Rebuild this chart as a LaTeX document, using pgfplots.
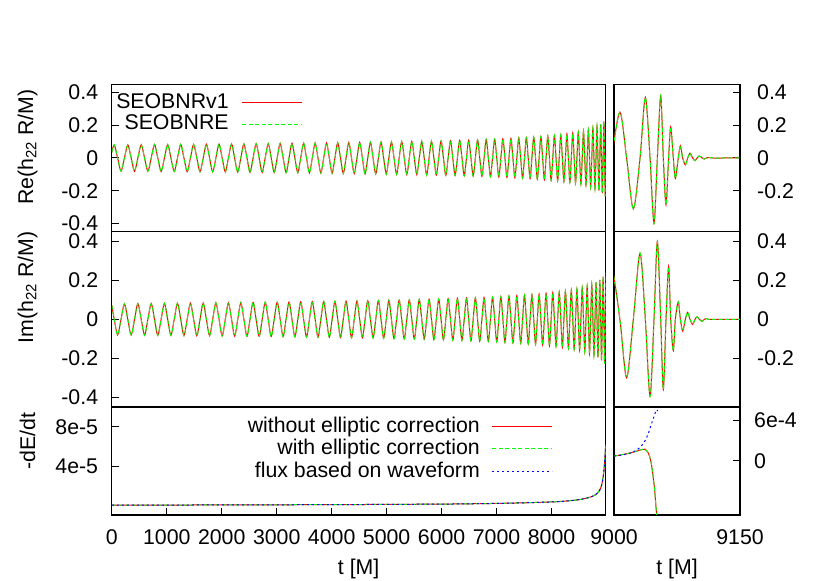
\documentclass[border=0pt]{standalone}
\usepackage{pgfplots}
\pgfplotsset{compat=1.18}
\usepackage{pgfplotstable}
\usepackage{fontspec}
\setmainfont{Liberation Sans}
\definecolor{gpred}{RGB}{255,0,0}
\definecolor{gpgreen}{RGB}{0,255,0}
\definecolor{gpblue}{RGB}{0,0,255}

% quarter-cycle samples of the inspiral waveform (t, Re, Im)
\pgfplotstableread{
t re im
0 0.034 0.072
44.6 0.080 0
106.4 0 -0.080
168.1 -0.080 0
229.7 0 0.080
291.1 0.080 0
352.3 0 -0.080
413.4 -0.081 0
474.4 0 0.081
535.2 0.081 0
595.9 0 -0.081
656.4 -0.081 0
716.8 0 0.081
777.0 0.082 0
837.1 0 -0.082
897.1 -0.082 0
956.9 0 0.082
1016.5 0.082 0
1076.0 0 -0.082
1135.4 -0.082 0
1194.6 0 0.083
1253.7 0.083 0
1312.6 0 -0.083
1371.3 -0.083 0
1430.0 0 0.083
1488.4 0.083 0
1546.7 0 -0.084
1604.9 -0.084 0
1662.9 0 0.084
1720.8 0.084 0
1778.5 0 -0.084
1836.0 -0.085 0
1893.4 0 0.085
1950.7 0.085 0
2007.8 0 -0.085
2064.7 -0.085 0
2121.5 0 0.085
2178.1 0.086 0
2234.6 0 -0.086
2290.9 -0.086 0
2347.1 0 0.086
2403.1 0.086 0
2459.0 0 -0.087
2514.6 -0.087 0
2570.2 0 0.087
2625.6 0.087 0
2680.8 0 -0.087
2735.8 -0.088 0
2790.7 0 0.088
2845.5 0.088 0
2900.0 0 -0.088
2954.5 -0.088 0
3008.7 0 0.088
3062.8 0.089 0
3116.7 0 -0.089
3170.5 -0.089 0
3224.1 0 0.089
3277.5 0.090 0
3330.8 0 -0.090
3383.9 -0.090 0
3436.9 0 0.090
3489.6 0.091 0
3542.3 0 -0.091
3594.7 -0.091 0
3647.0 0 0.091
3699.1 0.091 0
3751.0 0 -0.092
3802.8 -0.092 0
3854.4 0 0.092
3905.8 0.092 0
3957.1 0 -0.092
4008.1 -0.093 0
4059.1 0 0.093
4109.8 0.093 0
4160.4 0 -0.093
4210.8 -0.094 0
4261.0 0 0.094
4311.0 0.094 0
4360.9 0 -0.094
4410.6 -0.095 0
4460.1 0 0.095
4509.4 0.095 0
4558.6 0 -0.095
4607.6 -0.096 0
4656.4 0 0.096
4705.0 0.096 0
4753.4 0 -0.096
4801.7 -0.097 0
4849.7 0 0.097
4897.6 0.097 0
4945.3 0 -0.097
4992.8 -0.098 0
5040.2 0 0.098
5087.3 0.098 0
5134.3 0 -0.099
5181.1 -0.099 0
5227.6 0 0.099
5274.0 0.100 0
5320.3 0 -0.100
5366.3 -0.100 0
5412.1 0 0.100
5457.7 0.101 0
5503.2 0 -0.101
5548.4 -0.101 0
5593.5 0 0.102
5638.3 0.102 0
5683.0 0 -0.102
5727.4 -0.103 0
5771.7 0 0.103
5815.8 0.103 0
5859.6 0 -0.104
5903.3 -0.104 0
5946.8 0 0.104
5990.0 0.105 0
6033.1 0 -0.105
6076.0 -0.106 0
6118.6 0 0.106
6161.0 0.106 0
6203.3 0 -0.107
6245.3 -0.107 0
6287.1 0 0.108
6328.7 0.108 0
6370.1 0 -0.108
6411.3 -0.109 0
6452.3 0 0.109
6493.0 0.109 0
6533.5 0 -0.110
6573.9 -0.110 0
6614.0 0 0.111
6653.8 0.111 0
6693.5 0 -0.112
6732.9 -0.112 0
6772.2 0 0.112
6811.1 0.113 0
6849.9 0 -0.113
6888.4 -0.114 0
6926.7 0 0.114
6964.8 0.115 0
7002.7 0 -0.115
7040.3 -0.116 0
7077.7 0 0.116
7114.8 0.117 0
7151.7 0 -0.118
7188.4 -0.118 0
7224.8 0 0.119
7261.0 0.119 0
7296.9 0 -0.120
7332.6 -0.120 0
7368.1 0 0.121
7403.2 0.122 0
7438.2 0 -0.122
7472.9 -0.123 0
7507.3 0 0.124
7541.5 0.124 0
7575.4 0 -0.125
7609.1 -0.126 0
7642.5 0 0.126
7675.7 0.127 0
7708.5 0 -0.128
7741.1 -0.129 0
7773.5 0 0.129
7805.5 0.130 0
7837.3 0 -0.131
7868.8 -0.132 0
7900.1 0 0.133
7931.0 0.134 0
7961.7 0 -0.135
7992.1 -0.136 0
8022.1 0 0.136
8051.9 0.137 0
8081.4 0 -0.138
8110.6 -0.139 0
8139.5 0 0.140
8168.1 0.141 0
8196.4 0 -0.142
8224.3 -0.144 0
8252.0 0 0.145
8279.3 0.146 0
8306.3 0 -0.147
8333.0 -0.148 0
8359.3 0 0.150
8385.3 0.151 0
8411.0 0 -0.152
8436.3 -0.154 0
8461.3 0 0.155
8486.0 0.157 0
8510.2 0 -0.158
8534.1 -0.160 0
8557.6 0 0.162
8580.8 0.164 0
8603.6 0 -0.165
8625.9 -0.167 0
8647.9 0 0.170
8669.5 0.172 0
8690.7 0 -0.174
8711.4 -0.176 0
8731.7 0 0.178
8751.6 0.181 0
8771.1 0 -0.183
8790.0 -0.186 0
8808.5 0 0.189
8826.6 0.192 0
8844.1 0 -0.195
8861.1 -0.199 0
8877.6 0 0.202
8893.6 0.206 0
8909.0 0 -0.210
8923.8 -0.215 0
8938.0 0 0.219
8951.6 0.224 0
8964.5 0 -0.229
8976.8 -0.234 0
8988.2 0 0.240
}\wavel

% merger and ringdown (t, Re, Im)
\pgfplotstableread{
t re im
8989 -0.25 0
8997 0 0.26
9007 0.28 0
9015 0 -0.30
9023 -0.31 0
9031 0 0.34
9037.3 0.37 0
9042.9 0 -0.395
9047.6 -0.40 0
9051.6 0 0.40
9055.6 0.38 0
9058.7 0 -0.36
9061.9 -0.285 0
9065 0 0.27
9067.5 0.19 0
9070.6 0 -0.16
9073 -0.125 0
9076.5 0 0.09
9079 0.075 0
9081.8 0 -0.06
9084.9 -0.042 0
9087.7 0 0.036
9090.5 0.030 0
9093.6 0 -0.026
9096.4 -0.016 0
9099 0 0.013
9101.6 0.013 0
9105 0 -0.010
9107.5 -0.006 0
9110 0 0.004
9112.5 0.003 0
9118 0 0
9130 0 0
9150 0 0
}\waver

% -dE/dt during the inspiral
\pgfplotstableread{
t f
0 1.0e-6
1000 1.05e-6
2000 1.15e-6
3000 1.3e-6
4000 1.45e-6
5000 1.7e-6
6000 2.0e-6
6500 2.3e-6
7000 2.7e-6
7500 3.3e-6
8000 4.2e-6
8200 4.8e-6
8400 5.8e-6
8500 6.5e-6
8600 7.5e-6
8700 9.0e-6
8750 1.0e-5
8800 1.15e-5
8850 1.4e-5
8880 1.65e-5
8900 1.9e-5
8920 2.35e-5
8940 3.0e-5
8955 3.7e-5
8965 4.4e-5
8975 5.3e-5
8985 6.2e-5
}\fluxl

% -dE/dt near merger, dynamics flux
\pgfplotstableread{
t f
9000 7.2e-5
9010 9.5e-5
9020 1.2e-4
9028 1.5e-4
9034 1.72e-4
9037 1.75e-4
9039 1.5e-4
9041 1.15e-4
9043 4e-5
9045 -8.5e-5
9048 -3.8e-4
9050 -6.8e-4
9051.3 -8.5e-4
}\fluxra

% -dE/dt near merger, flux from waveform
\pgfplotstableread{
t f
9000 7.2e-5
9010 9.0e-5
9020 1.2e-4
9028 1.7e-4
9035 2.6e-4
9040 3.8e-4
9043 4.9e-4
9046 6.0e-4
9049 7.1e-4
9051 7.6e-4
9052 7.4e-4
}\fluxrw

\pgfplotsset{
  gp/.style={scale only axis, anchor=south west,
    axis line style={line width=1.2pt, black},
    every tick/.style={line width=1pt, black},
    major tick length=7pt, tick align=inside,
    scaled ticks=false, clip=true,
    legend plot pos=right, legend cell align=right,
    cycle list={
      {gpred, line width=1pt, mark=none, smooth},
      {gpgreen, line width=1pt, mark=none, smooth, dash pattern=on 4pt off 2.5pt},
      {gpblue, line width=1pt, mark=none, smooth, dash pattern=on 2pt off 3pt}},
    legend image code/.code={\draw[##1] (0pt,0pt) -- (60pt,0pt);},
  },
  leftcol/.style={gp, width=493.9pt, xmin=0, xmax=8985,
    ytick pos=left,
    yticklabel style={anchor=east, inner sep=0pt, xshift=-13.5pt}},
  rightcol/.style={gp, width=126pt, xmin=9000, xmax=9150,
    ytick pos=right,
    yticklabel style={anchor=west, inner sep=0pt, xshift=17pt}},
  wave/.style={ymin=-0.45, ymax=0.45, xtick=\empty},
  botx/.style={xticklabel style={anchor=base, inner sep=0pt, yshift=-29.5pt}},
}

\begin{document}
\fontsize{21.3}{25}\selectfont
\begin{tikzpicture}
\path[use as bounding box] (0pt,0pt) rectangle (830pt,581pt);

% ---- Re, left
\begin{axis}[leftcol, wave, at={(111.8pt,349.3pt)}, height=147.4pt,
  ytick={-0.4,-0.2,0,0.2,0.4}, yticklabels={-0.4,-0.2,0,0.2,0.4},
  legend style={at={(rel axis cs:0.393,0.963)}, anchor=north east,
    draw=none, fill=none, row sep=-1pt, column sep=11pt}]
\addplot+[] table[x=t, y=re] {\wavel};
\addlegendentry{SEOBNRv1}
\addplot+[] table[x=t, y=re] {\wavel};
\addlegendentry{SEOBNRE}
\end{axis}

% ---- Re, right
\begin{axis}[rightcol, wave, at={(614pt,349.3pt)}, height=147.4pt,
  ytick={-0.2,0,0.2,0.4}, yticklabels={-0.2,0,0.2,0.4}]
\addplot+[] table[x=t, y=re] {\waver};
\addplot+[] table[x=t, y=re] {\waver};
\end{axis}

% ---- Im, left
\begin{axis}[leftcol, wave, at={(111.8pt,174pt)}, height=175.3pt,
  ytick={-0.4,-0.2,0,0.2,0.4}, yticklabels={-0.4,-0.2,0,0.2,0.4}]
\addplot+[] table[x=t, y=im] {\wavel};
\addplot+[] table[x=t, y=im] {\wavel};
\end{axis}

% ---- Im, right
\begin{axis}[rightcol, wave, at={(614pt,174pt)}, height=175.3pt,
  ytick={-0.2,0,0.2,0.4}, yticklabels={-0.2,0,0.2,0.4}]
\addplot+[] table[x=t, y=im] {\waver};
\addplot+[] table[x=t, y=im] {\waver};
\end{axis}

% ---- flux, left
\begin{axis}[leftcol, botx, at={(111.8pt,66pt)}, height=108pt,
  ymin=-0.9e-5, ymax=1e-4,
  xtick={0,1000,2000,3000,4000,5000,6000,7000,8000},
  xticklabels={0,1000,2000,3000,4000,5000,6000,7000,8000},
  xtick pos=bottom,
  ytick={4e-5,8e-5}, yticklabels={4e-5,8e-5},
  legend style={at={(rel axis cs:0.8994,0.949)}, anchor=north east,
    draw=none, fill=none, row sep=0pt, column sep=10pt}]
\addplot+[] table[x=t, y=f] {\fluxl};
\addlegendentry{without elliptic correction}
\addplot+[] table[x=t, y=f] {\fluxl};
\addlegendentry{with elliptic correction}
\addplot+[] table[x=t, y=f] {\fluxl};
\addlegendentry{flux based on waveform}
\end{axis}

% ---- flux, right
\begin{axis}[rightcol, botx, at={(614pt,66pt)}, height=108pt,
  ymin=-8e-4, ymax=8e-4,
  xtick={9000,9150}, xticklabels={9000,9150}, xtick pos=bottom,
  ytick={0,6e-4}, yticklabels={0,6e-4},
  yticklabel style={xshift=-3pt}]
\addplot+[] table[x=t, y=f] {\fluxra};
\addplot+[] table[x=t, y=f] {\fluxra};
\addplot+[] table[x=t, y=f] {\fluxrw};
\end{axis}

% ---- axis titles
\node[rotate=90] at (27.5pt,434pt) {Re(h\textsubscript{22} R/M)};
\node[rotate=90] at (27.5pt,293.5pt) {Im(h\textsubscript{22} R/M)};
\node[rotate=90] at (27.5pt,140pt) {-dE/dt};
\node at (358.7pt,12pt) {t [M]};
\node at (677pt,12pt) {t [M]};
\end{tikzpicture}
\end{document}
